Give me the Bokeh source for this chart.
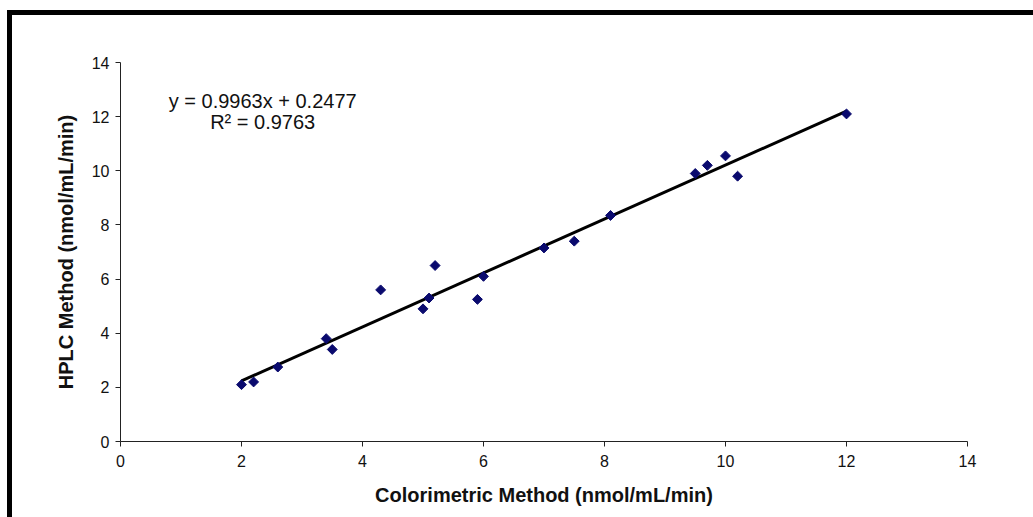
import math
from bokeh.plotting import figure
from bokeh.layouts import column
from bokeh.models import Range1d, Label, FixedTicker
from bokeh.embed import file_html
from bokeh.resources import INLINE

# Data
colorimetric = [2.0, 2.2, 2.6, 3.4, 3.5, 4.3, 5.0, 5.1, 5.2, 5.9, 6.0, 7.0, 7.5, 8.1, 9.5, 9.7, 10.0, 10.2, 12.0]
hplc = [2.1, 2.2, 2.75, 3.8, 3.4, 5.6, 4.9, 5.3, 6.5, 5.25, 6.1, 7.15, 7.4, 8.35, 9.9, 10.2, 10.55, 9.8, 12.1]
slope = 0.9963
intercept = 0.2477
r_squared = 0.9763
ticks = [0, 2, 4, 6, 8, 10, 12, 14]

FONT = "Liberation Sans"

p = figure(width=1026, height=507, output_backend="svg", toolbar_location=None,
           x_range=Range1d(0, 14), y_range=Range1d(0, 14),
           min_border_left=108, min_border_right=71, min_border_top=47, min_border_bottom=81)
p.xgrid.visible = False
p.ygrid.visible = False
p.outline_line_color = None
p.background_fill_color = "white"
p.border_fill_color = "white"
p.styles = {"border-top": "5px solid black", "border-left": "5px solid black"}

for ax in (p.xaxis[0], p.yaxis[0]):
    ax.ticker = FixedTicker(ticks=ticks)
    ax.minor_tick_line_color = None
    ax.major_tick_in = 0
    ax.major_tick_out = 5
    ax.axis_line_color = "#222222"
    ax.major_tick_line_color = "#222222"
    ax.major_label_text_font = FONT
    ax.major_label_text_font_size = "16px"
    ax.major_label_text_color = "#111111"
    ax.axis_label_text_font = FONT
    ax.axis_label_text_font_style = "bold"
    ax.axis_label_text_font_size = "20px"
    ax.axis_label_text_color = "#111111"

p.xaxis.axis_label = "Colorimetric Method (nmol/mL/min)"
p.yaxis.axis_label = "HPLC Method (nmol/mL/min)"
p.xaxis.major_label_standoff = 8
p.yaxis.major_label_standoff = 6
p.xaxis.axis_label_standoff = 14
p.yaxis.axis_label_standoff = 12

# Trend line across the data range
x0, x1 = min(colorimetric), max(colorimetric)
p.line([x0, x1], [slope * x0 + intercept, slope * x1 + intercept], line_color="black", line_width=3)

# Diamond markers
p.scatter(colorimetric, hplc, marker="square", size=7, angle=math.pi / 4,
          fill_color="#0a0a6e", line_color="#0a0a6e")

p.add_layout(Label(x=2.35, y=12.56, text=f"y = {slope}x + {intercept}", text_align="center",
                   text_baseline="middle", text_font=FONT, text_font_size="20px", text_color="#111111"))
p.add_layout(Label(x=2.35, y=11.82, text=f"R² = {r_squared}", text_align="center",
                   text_baseline="middle", text_font=FONT, text_font_size="20px", text_color="#111111"))

layout = column(p, styles={"padding-top": "10px", "padding-left": "7px"})

open("out.html", "w").write(file_html(layout, INLINE))
